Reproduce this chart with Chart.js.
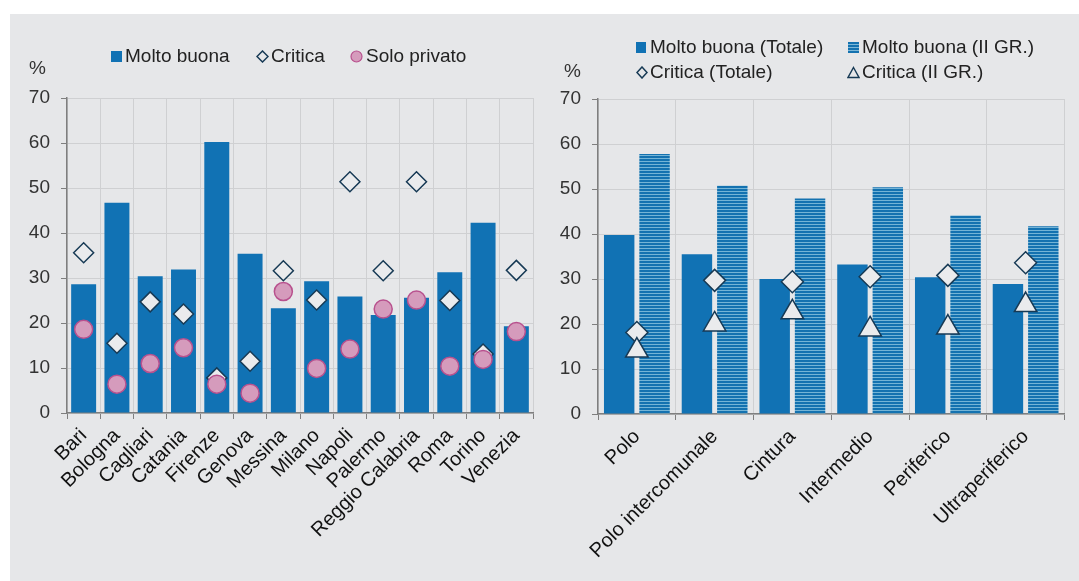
<!DOCTYPE html>
<html>
<head>
<meta charset="utf-8">
<script src="https://cdn.jsdelivr.net/npm/chart.js@4.4.1/dist/chart.umd.min.js"></script>
<style>
  body { margin: 0; background: #fff; font-family: "Liberation Sans", Arial, sans-serif; }
  #panel { position: absolute; left: 10px; top: 14px; width: 1069px; height: 567px; background: #e6e7e9; }
  .wrap { position: absolute; top: 0; height: 581px; }
  #wrapL { left: 0; width: 545px; }
  #wrapR { left: 545px; width: 534px; }
  .lg { position: absolute; font-size: 19px; color: #222; white-space: nowrap; line-height: 20px; }
  .lg svg { position: absolute; }
  .pct { position: absolute; font-size: 19px; color: #333; }
</style>
</head>
<body>
<div id="panel"></div>
<div class="wrap" id="wrapL"><canvas id="chartL" width="545" height="581"></canvas></div>
<div class="wrap" id="wrapR"><canvas id="chartR" width="534" height="581"></canvas></div>

<div class="pct" style="left:29px;top:57px">%</div>
<div class="pct" style="left:564px;top:60px">%</div>

<!-- left legend -->
<div class="lg" style="left:111px;top:46px"><svg width="11" height="11" style="left:0;top:5px"><rect width="11" height="11" fill="#1172b4"/></svg><span style="margin-left:14px">Molto buona</span></div>
<div class="lg" style="left:256px;top:46px"><svg width="13" height="13" style="left:0;top:4px"><path d="M6.5 1 L12 6.5 L6.5 12 L1 6.5 Z" fill="#e6e7e9" stroke="#173a55" stroke-width="1.5"/></svg><span style="margin-left:15px">Critica</span></div>
<div class="lg" style="left:350px;top:46px"><svg width="13" height="13" style="left:0;top:4px"><circle cx="6.5" cy="6.5" r="5.5" fill="#d59bbc" stroke="#b8518e" stroke-width="1.2"/></svg><span style="margin-left:16px">Solo privato</span></div>

<!-- right legend -->
<div class="lg" style="left:636px;top:37px"><svg width="10" height="11" style="left:0;top:5px"><rect width="10" height="11" fill="#1172b4"/></svg><span style="margin-left:14px">Molto buona (Totale)</span></div>
<div class="lg" style="left:848px;top:37px"><svg width="11" height="11" style="left:0;top:5px"><rect width="11" height="11" fill="#1472b0"/><rect y="2" width="11" height="1" fill="#7db8d8"/><rect y="5" width="11" height="1" fill="#7db8d8"/><rect y="8" width="11" height="1" fill="#7db8d8"/></svg><span style="margin-left:14px">Molto buona (II GR.)</span></div>
<div class="lg" style="left:636px;top:62px"><svg width="12" height="13" style="left:0;top:4px"><path d="M6 1 L11 6.5 L6 12 L1 6.5 Z" fill="#e6e7e9" stroke="#173a55" stroke-width="1.5"/></svg><span style="margin-left:14px">Critica (Totale)</span></div>
<div class="lg" style="left:847px;top:62px"><svg width="13" height="13" style="left:0;top:4px"><path d="M6.5 1.5 L12 11.5 L1 11.5 Z" fill="#e6e7e9" stroke="#173a55" stroke-width="1.4"/></svg><span style="margin-left:15px">Critica (II GR.)</span></div>

<script>
// ---- data: left chart (cities) ----
const cities = ["Bari", "Bologna", "Cagliari", "Catania", "Firenze", "Genova", "Messina", "Milano", "Napoli", "Palermo", "Reggio Calabria", "Roma", "Torino", "Venezia"];
const moltoBuona = [28.6, 46.7, 30.4, 31.9, 60.2, 35.4, 23.3, 29.3, 25.9, 21.8, 25.6, 31.3, 42.3, 19.3];
const critica = [35.6, 15.5, 24.7, 22.0, 7.8, 11.5, 31.6, 25.1, 51.4, 31.6, 51.4, 25.0, 13.1, 31.7];
const soloPrivato = [18.6, 6.4, 11.0, 14.5, 6.4, 4.4, 27.0, 9.9, 14.2, 23.1, 25.1, 10.4, 11.9, 18.1];

// ---- data: right chart (zone) ----
const zone = ["Polo", "Polo intercomunale", "Cintura", "Intermedio", "Periferico", "Ultraperiferico"];
const buonaTotale = [39.8, 35.5, 30.0, 33.2, 30.4, 28.9];
const buonaIIGR = [57.8, 50.7, 47.9, 50.4, 44.1, 41.7];
const criticaTotale = [18.1, 29.7, 29.4, 30.5, 30.8, 33.6];
const criticaIIGR = [14.1, 19.9, 22.6, 18.8, 19.2, 24.2];

const yTicks = [0, 10, 20, 30, 40, 50, 60, 70];

const BLUE = "#1172b4";
const NAVY = "#173a55";
const MARK_FILL = "#eaebed";
const GRID = "#cfd0d2";
const AXIS = "#7f7f7f";

Chart.defaults.font.family = '"Liberation Sans", Arial, sans-serif';
Chart.defaults.animation = false;

// striped fill for the II GR. bars
function makeStripes() {
  const c = document.createElement("canvas");
  c.width = 8; c.height = 3;
  const g = c.getContext("2d");
  g.fillStyle = "#1472b0";
  g.fillRect(0, 0, 8, 3);
  g.fillStyle = "#74b4d6";
  g.fillRect(0, 2, 8, 1);
  return g.createPattern(c, "repeat");
}

function scalesFor(yWidth, xHeight) {
  return {
    x: {
      grid: { color: GRID, lineWidth: 1, offset: true, tickColor: AXIS, tickLength: 6 },
      border: { color: AXIS, width: 1.5 },
      ticks: { color: "#111", font: { size: 20 }, minRotation: 45, maxRotation: 45, autoSkip: false, padding: 5 },
      afterFit: function(s) { s.height = xHeight; }
    },
    y: {
      min: 0, max: 70,
      afterBuildTicks: function(s) { s.ticks = yTicks.map(v => ({ value: v })); },
      grid: { color: GRID, lineWidth: 1, tickColor: AXIS, tickLength: 6 },
      border: { color: AXIS, width: 1.5 },
      ticks: { color: "#333", font: { size: 19 }, padding: 11 },
      afterFit: function(s) { s.width = yWidth; }
    }
  };
}

const commonPlugins = { legend: { display: false }, tooltip: { enabled: false } };

new Chart(document.getElementById("chartL"), {
  type: "bar",
  data: {
    labels: cities,
    datasets: [
      { type: "line", label: "Solo privato", data: soloPrivato, showLine: false, order: 0,
        pointStyle: "circle", pointRadius: 9, pointBackgroundColor: "#d59bbc", pointBorderColor: "#b8518e", pointBorderWidth: 1.5 },
      { type: "line", label: "Critica", data: critica, showLine: false, order: 1,
        pointStyle: "rectRot", pointRadius: 10, pointBackgroundColor: MARK_FILL, pointBorderColor: NAVY, pointBorderWidth: 1.5 },
      { label: "Molto buona", data: moltoBuona, backgroundColor: BLUE, order: 2,
        barPercentage: 0.75, categoryPercentage: 1 }
    ]
  },
  options: {
    responsive: false,
    layout: { padding: { left: 8, top: 98, right: 12, bottom: 0 } },
    plugins: commonPlugins,
    scales: scalesFor(59, 168)
  }
});

new Chart(document.getElementById("chartR"), {
  type: "bar",
  data: {
    labels: zone,
    datasets: [
      { type: "line", label: "Critica (II GR.)", data: criticaIIGR, showLine: false, order: 0,
        pointStyle: "triangle", pointRadius: 13, pointBackgroundColor: MARK_FILL, pointBorderColor: NAVY, pointBorderWidth: 1.5 },
      { type: "line", label: "Critica (Totale)", data: criticaTotale, showLine: false, order: 1,
        pointStyle: "rectRot", pointRadius: 11, pointBackgroundColor: MARK_FILL, pointBorderColor: NAVY, pointBorderWidth: 1.5 },
      { label: "Molto buona (Totale)", data: buonaTotale, backgroundColor: BLUE, order: 2,
        barPercentage: 0.86, categoryPercentage: 0.91 },
      { label: "Molto buona (II GR.)", data: buonaIIGR, backgroundColor: makeStripes(), order: 2,
        barPercentage: 0.86, categoryPercentage: 0.91 }
    ]
  },
  options: {
    responsive: false,
    layout: { padding: { left: 0, top: 99, right: 12, bottom: 0 } },
    plugins: commonPlugins,
    scales: scalesFor(53, 167)
  }
});
</script>
</body>
</html>
